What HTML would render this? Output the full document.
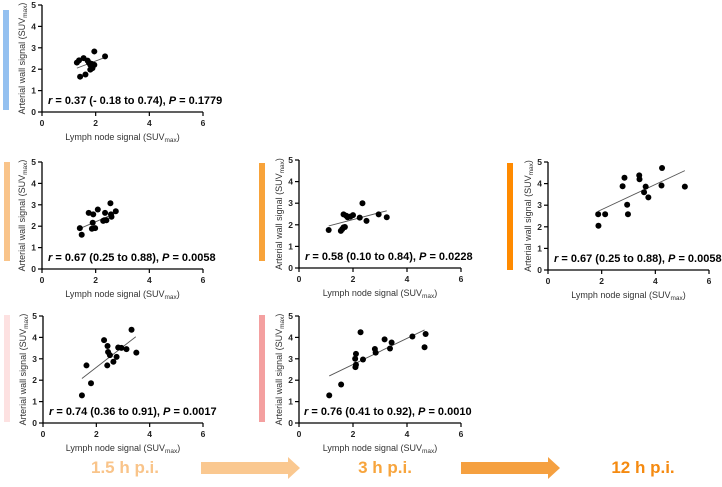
<!DOCTYPE html>
<html><head><meta charset="utf-8"><style>
html,body{margin:0;padding:0;background:#fff;}
svg{display:block;font-family:"Liberation Sans",Arial,sans-serif;}
</style></head><body>
<svg id="fig" width="722" height="487" viewBox="0 0 722 487" xmlns="http://www.w3.org/2000/svg">
<g id="bars"></g><g id="panels"></g>
<g>
<text x="125" y="473" text-anchor="middle" font-size="17" font-weight="bold" fill="#f9c48a">1.5 h p.i.</text>
<polygon points="201,462 288,462 288,457 300,468 288,479 288,474 201,474" fill="#fac890"/>
<text x="385" y="473" text-anchor="middle" font-size="17" font-weight="bold" fill="#f7a43c">3 h p.i.</text>
<polygon points="461,462 548,462 548,457 560,468 548,479 548,474 461,474" fill="#f5a040"/>
<text x="643" y="473" text-anchor="middle" font-size="17" font-weight="bold" fill="#f58a10">12 h p.i.</text>
</g>
</svg>
<script>
var xTicks=[0,2,4,6];
var yTicks=[0,1,2,3,4,5];
var p1X=[1.30,1.38,1.55,1.70,1.75,1.80,1.88,1.80,1.95,1.95,2.35,1.42,1.62,1.85];
var p1Y=[2.31,2.41,2.52,2.40,2.30,2.20,2.05,1.98,2.20,2.83,2.60,1.65,1.75,2.25];
var p1Line=[1.30,2.05,2.35,2.55];
var p2X=[1.41,1.48,1.74,1.91,2.08,1.89,1.86,1.98,2.32,2.28,2.40,2.35,2.55,2.57,2.59,2.75];
var p2Y=[1.91,1.60,2.62,2.55,2.78,2.16,1.88,1.91,2.28,2.25,2.28,2.62,3.07,2.55,2.44,2.70];
var p2Line=[1.41,1.89,2.71,2.59];
var p3X=[1.10,1.55,1.60,1.65,1.70,1.65,1.75,1.80,1.90,2.00,2.25,2.35,2.50,2.95,3.25];
var p3Y=[1.76,1.72,1.80,1.88,1.90,2.48,2.42,2.35,2.38,2.45,2.33,3.00,2.18,2.48,2.35];
var p3Line=[1.10,1.95,3.25,2.65];
var p4X=[1.87,1.88,2.13,2.78,2.85,2.95,2.98,3.40,3.41,3.58,3.64,3.74,4.23,4.25,5.10];
var p4Y=[2.58,2.05,2.58,3.88,4.27,3.02,2.58,4.38,4.20,3.60,3.86,3.36,3.91,4.72,3.86];
var p4Line=[1.87,2.72,5.10,4.60];
var p5X=[1.46,1.63,1.80,2.29,2.42,2.44,2.51,2.41,2.64,2.76,2.82,2.94,3.13,3.32,3.50];
var p5Y=[1.29,2.69,1.86,3.87,3.60,3.32,3.17,2.69,2.86,3.09,3.53,3.51,3.45,4.36,3.29];
var p5Line=[1.46,2.08,3.48,4.03];
var p6X=[1.12,1.56,2.08,2.09,2.11,2.11,2.28,2.37,2.81,2.84,3.17,3.37,3.43,4.20,4.65,4.69];
var p6Y=[1.29,1.80,3.00,2.61,2.72,3.23,4.24,2.97,3.46,3.29,3.91,3.48,3.76,4.04,3.54,4.16];
var p6Line=[1.12,2.20,4.65,4.35];
var stats=["= 0.37 (- 0.18 to 0.74), ","= 0.67 (0.25 to 0.88), ","= 0.58 (0.10 to 0.84), ","= 0.67 (0.25 to 0.88), ","= 0.74 (0.36 to 0.91), ","= 0.76 (0.41 to 0.92), "];
var pvals=["= 0.1779","= 0.0058","= 0.0228","= 0.0058","= 0.0017","= 0.0010"];

var NS="http://www.w3.org/2000/svg";
function mk(tag,attrs,parent){var e=document.createElementNS(NS,tag);for(var k in attrs)e.setAttribute(k,attrs[k]);parent.appendChild(e);return e;}
var layout=[
 {ox:42,oy:112,x6:203,y5:5,bar:[3,10,6,100],col:"#93c0f0",tx:48},
 {ox:42,oy:269,x6:203,y5:162,bar:[4,162,6,99],col:"#f9c48a",tx:48},
 {ox:299,oy:268,x6:461,y5:160,bar:[259,163,6,98],col:"#f8a33a",tx:305},
 {ox:548,oy:270,x6:709,y5:162,bar:[507,163,6,107],col:"#ff8a00",tx:554},
 {ox:43,oy:423,x6:203,y5:316,bar:[4,315,6,107],col:"#fde1e1",tx:49},
 {ox:299,oy:423,x6:461,y5:316,bar:[259,315,6,107],col:"#f4a0a0",tx:304}
];
var XS=[p1X,p2X,p3X,p4X,p5X,p6X],YS=[p1Y,p2Y,p3Y,p4Y,p5Y,p6Y],LS=[p1Line,p2Line,p3Line,p4Line,p5Line,p6Line];
var root=document.getElementById('panels'),bars=document.getElementById('bars');
layout.forEach(function(L,i){
  function sx(v){return L.ox+(L.x6-L.ox)*v/6;}
  function sy(v){return L.oy-(L.oy-L.y5)*v/5;}
  var b=mk('rect',{x:L.bar[0],y:L.bar[1],width:L.bar[2],height:L.bar[3],fill:L.col},bars);
  
  
  var g=mk('g',{},root);
  
  
  var ax=mk('path',{d:'M'+L.ox+','+L.y5+'V'+L.oy+'H'+L.x6,stroke:'#000','stroke-width':1.3,fill:'none'},g);
  
  
  yTicks.forEach(function(t){
    mk('line',{x1:L.ox-4,x2:L.ox,y1:sy(t),y2:sy(t),stroke:'#000','stroke-width':1.2},g);
    var tl=mk('text',{x:L.ox-6,y:sy(t)+3,'text-anchor':'end','font-size':8.5,'font-weight':'bold',fill:'#222'},g);
    tl.textContent=t;
    
    
  });
  xTicks.forEach(function(t){
    mk('line',{x1:sx(t),x2:sx(t),y1:L.oy,y2:L.oy+4,stroke:'#000','stroke-width':1.2},g);
    var tl=mk('text',{x:sx(t),y:L.oy+14,'text-anchor':'middle','font-size':8.5,'font-weight':'bold',fill:'#222'},g);
    tl.textContent=t;
    
    
  });
  var xl=mk('text',{x:(L.ox+L.x6)/2,y:L.oy+28,'text-anchor':'middle','font-size':9,fill:'#333'},g);
  xl.innerHTML='Lymph node signal (SUV<tspan font-size="6.5" dy="2">max</tspan><tspan dy="-2">)</tspan>';
  
  
  var cy=(L.oy+L.y5)/2,cx=L.ox-17;
  var yl=mk('text',{x:cx,y:cy,'text-anchor':'middle','font-size':9,fill:'#333',transform:'rotate(-90 '+cx+' '+cy+')'},g);
  yl.innerHTML='Arterial wall signal (SUV<tspan font-size="6.5" dy="2">max</tspan><tspan dy="-2">)</tspan>';
  
  
  var l=LS[i];
  var fit=mk('line',{x1:sx(l[0]),y1:sy(l[1]),x2:sx(l[2]),y2:sy(l[3]),stroke:'#555','stroke-width':0.9},g);
  
  
  XS[i].forEach(function(v,j){
    var c=mk('circle',{cx:sx(v),cy:sy(YS[i][j]),r:3,fill:'#000'},g);
    
    
  });
  var st=mk('text',{x:L.tx,y:L.oy-8,'font-size':11,'font-weight':'bold',fill:'#000'},g);
  st.innerHTML='<tspan font-style="italic">r</tspan> '+stats[i]+'<tspan font-style="italic">P</tspan> '+pvals[i];
  
  
});
</script>
</body></html>
